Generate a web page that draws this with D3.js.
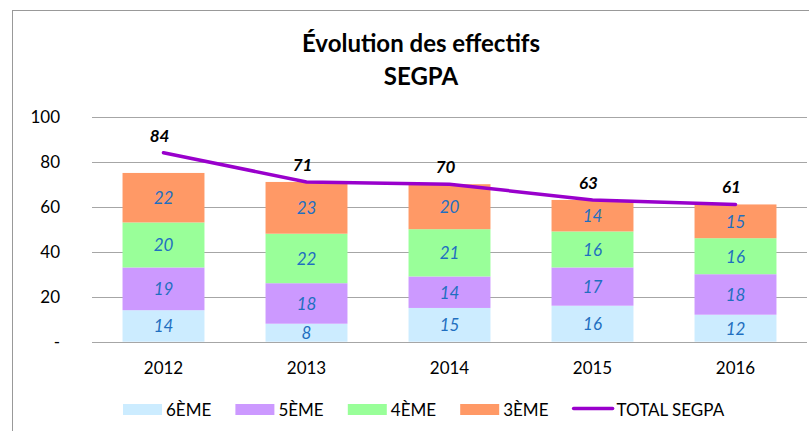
<!DOCTYPE html>
<html>
<head>
<meta charset="utf-8">
<script src="https://cdn.jsdelivr.net/npm/d3@7"></script>
<style>
  body { margin: 0; background: #fff; }
  svg { display: block; font-family: Lato, "Open Sans", sans-serif; }
</style>
</head>
<body>
<svg width="809" height="431"></svg>
<script>
var years = ["2012", "2013", "2014", "2015", "2016"];
var levels = ["6ÈME", "5ÈME", "4ÈME", "3ÈME"];
var sixieme = [14, 8, 15, 16, 12];
var cinquieme = [19, 18, 14, 17, 18];
var quatrieme = [20, 22, 21, 16, 16];
var troisieme = [22, 23, 20, 14, 15];
var total = [84, 71, 70, 63, 61];
var yTicks = [0, 20, 40, 60, 80, 100];

var colors = ["#CCECFF", "#CC99FF", "#99FF99", "#FF9966"];
var lineColor = "#9900CC";

var svg = d3.select("svg");

// outer chart border (right / bottom edges are cropped off)
svg.append("rect")
  .attr("x", 12.5).attr("y", 10.5)
  .attr("width", 830).attr("height", 440)
  .attr("fill", "none")
  .attr("stroke", "#999");

var rows = years.map(function(y, i) {
  return { year: y, "6ÈME": sixieme[i], "5ÈME": cinquieme[i], "4ÈME": quatrieme[i], "3ÈME": troisieme[i], total: total[i] };
});

var x = d3.scaleBand()
  .domain(years)
  .range([92, 807])
  .paddingInner(0.427)
  .paddingOuter(0.2135);

var y = d3.scaleLinear()
  .domain([0, 100])
  .range([341.7, 116.7]);

// gridlines
svg.append("g")
  .selectAll("line")
  .data(yTicks)
  .enter().append("line")
  .attr("x1", 92).attr("x2", 807)
  .attr("y1", function(d) { return Math.round(y(d)) + 0.5; })
  .attr("y2", function(d) { return Math.round(y(d)) + 0.5; })
  .attr("stroke", "#a6a6a6")
  .attr("stroke-width", 1.2);

// y tick labels
svg.append("g")
  .selectAll("text")
  .data(yTicks)
  .enter().append("text")
  .attr("x", 60)
  .attr("y", function(d) { return y(d) + 6; })
  .attr("text-anchor", "end")
  .attr("font-size", 17)
  .attr("fill", "#000")
  .text(function(d) { return d === 0 ? "-" : d; });

// x labels
svg.append("g")
  .selectAll("text")
  .data(years)
  .enter().append("text")
  .attr("x", function(d) { return x(d) + x.bandwidth() / 2; })
  .attr("y", 373.5)
  .attr("text-anchor", "middle")
  .attr("font-size", 17)
  .attr("fill", "#000")
  .text(function(d) { return d; });

var stack = d3.stack().keys(levels);
var series = stack(rows);

var layer = svg.append("g")
  .selectAll("g")
  .data(series)
  .enter().append("g")
  .attr("fill", function(d, i) { return colors[i]; });

layer.selectAll("rect")
  .data(function(d) { return d; })
  .enter().append("rect")
  .attr("x", function(d) { return x(d.data.year); })
  .attr("y", function(d) { return y(d[1]); })
  .attr("width", x.bandwidth())
  .attr("height", function(d) { return y(d[0]) - y(d[1]); });

layer.selectAll("text")
  .data(function(d) { return d; })
  .enter().append("text")
  .attr("x", function(d) { return x(d.data.year) + x.bandwidth() / 2; })
  .attr("y", function(d) { return (y(d[0]) + y(d[1])) / 2 + 6.5; })
  .attr("text-anchor", "middle")
  .attr("font-size", 17)
  .attr("font-style", "italic")
  .attr("fill", "#1F6FC0")
  .text(function(d) { return d[1] - d[0]; });

// total line
var line = d3.line()
  .x(function(d) { return x(d.year) + x.bandwidth() / 2; })
  .y(function(d) { return y(d.total); });

svg.append("path")
  .datum(rows)
  .attr("d", line)
  .attr("fill", "none")
  .attr("stroke", lineColor)
  .attr("stroke-width", 3.5)
  .attr("stroke-linecap", "round");

svg.append("g")
  .selectAll("text")
  .data(rows)
  .enter().append("text")
  .attr("x", function(d) { return x(d.year) + x.bandwidth() / 2 - 4; })
  .attr("y", function(d) { return y(d.total) - 11; })
  .attr("text-anchor", "middle")
  .attr("font-size", 17)
  .attr("font-weight", "bold")
  .attr("font-style", "italic")
  .attr("fill", "#000")
  .text(function(d) { return d.total; });

// title
var title = svg.append("text")
  .attr("x", 421)
  .attr("text-anchor", "middle")
  .attr("font-size", 24)
  .attr("font-weight", "bold")
  .attr("fill", "#000");
title.append("tspan").attr("x", 421).attr("y", 52).text("Évolution des effectifs");
title.append("tspan").attr("x", 421).attr("y", 85).text("SEGPA");

// legend
var legend = svg.append("g");
var step = 112.4;
levels.forEach(function(k, i) {
  var lx = 123 + i * step;
  legend.append("rect")
    .attr("x", lx).attr("y", 404)
    .attr("width", 39).attr("height", 11)
    .attr("fill", colors[i]);
  legend.append("text")
    .attr("x", lx + 43).attr("y", 415.5)
    .attr("font-size", 17)
    .attr("fill", "#000")
    .text(k);
});
var tx = 123 + levels.length * step;
legend.append("line")
  .attr("x1", tx + 1).attr("x2", tx + 40)
  .attr("y1", 408.5).attr("y2", 408.5)
  .attr("stroke", lineColor)
  .attr("stroke-width", 3.5)
  .attr("stroke-linecap", "round");
legend.append("text")
  .attr("x", tx + 44).attr("y", 415.5)
  .attr("font-size", 17)
  .attr("fill", "#000")
  .text("TOTAL SEGPA");
</script>
</body>
</html>
